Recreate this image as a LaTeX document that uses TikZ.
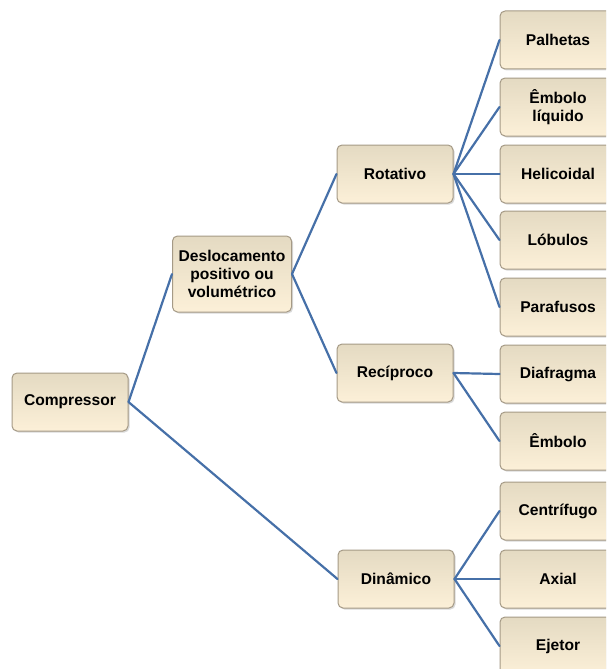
\documentclass[tikz,border=0pt]{standalone}
\usepackage{fontspec}
\setmainfont{Liberation Sans}
\usetikzlibrary{shadows}
\definecolor{linha}{RGB}{70,112,168}
\definecolor{caixatopo}{RGB}{228,218,194}
\definecolor{caixabase}{RGB}{252,240,216}
\definecolor{borda}{RGB}{165,154,134}
\begin{document}
\begin{tikzpicture}[x=1pt,y=-1pt,line join=round,line cap=round]
            \tikzset{caixa/.style={draw=borda,line width=1pt,rounded corners=5pt,
                top color=caixatopo,bottom color=caixabase,
                minimum width=116pt,minimum height=58pt,align=center,
                font=\fontsize{15.6}{18}\selectfont\bfseries,
                drop shadow={opacity=0.3,shadow xshift=1.5pt,shadow yshift=-1.5pt}},
                ramo/.style={draw=linha,line width=2.2pt}}
            %% margens da figura
            \useasboundingbox (0,0) rectangle (606,669);
            \clip (0,0) rectangle (606,669);
            \node[caixa] (comp) at (70,402) {Compressor};
            \node[caixa,minimum width=119pt,minimum height=76pt] (desl) at (232,274) {Deslocamento\\positivo ou\\volumétrico};
            \node[caixa] (rot) at (395,174) {Rotativo};
            \node[caixa] (rec) at (395,373) {Recíproco};
            \node[caixa] (din) at (396,579) {Dinâmico};
            %% coluna da direita
            \foreach \nome/\y/\texto in {palh/40/Palhetas, embliq/107/{Êmbolo\\líquido},
                heli/174/Helicoidal, lob/240/Lóbulos, paraf/307/Parafusos,
                diaf/374/Diafragma, emb/441/Êmbolo, centr/511/Centrífugo,
                axial/579/Axial, ejetor/646/Ejetor}
                \node[caixa] (\nome) at (558,\y) {\texto};
            \draw[ramo] (comp.east) -- (desl.west);
            \draw[ramo] (comp.east) -- (din.west);
            \draw[ramo] (desl.east) -- (rot.west);
            \draw[ramo] (desl.east) -- (rec.west);
            \foreach \f in {palh,embliq,heli,lob,paraf} \draw[ramo] (rot.east) -- (\f.west);
            \foreach \f in {diaf,emb} \draw[ramo] (rec.east) -- (\f.west);
            \foreach \f in {centr,axial,ejetor} \draw[ramo] (din.east) -- (\f.west);
        \end{tikzpicture}
\end{document}
